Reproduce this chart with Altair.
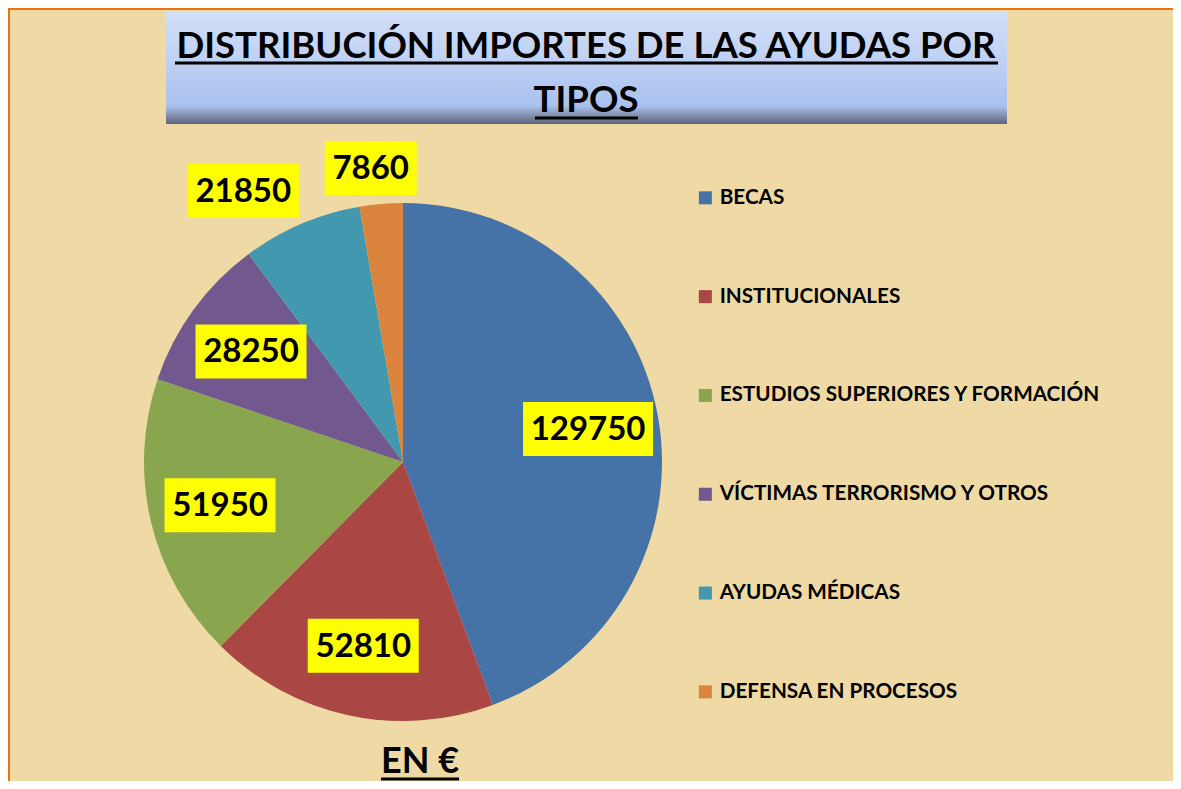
import altair as alt
import pandas as pd

# ---- data ----
categories = ["BECAS", "INSTITUCIONALES", "ESTUDIOS SUPERIORES Y FORMACIÓN",
              "VÍCTIMAS TERRORISMO Y OTROS", "AYUDAS MÉDICAS", "DEFENSA EN PROCESOS"]
values = [129750, 52810, 51950, 28250, 21850, 7860]
colors = ["#4572A7", "#AA4643", "#89A54E", "#71588F", "#4198AF", "#DB843D"]
title_lines = ["DISTRIBUCIÓN IMPORTES DE LAS AYUDAS POR", "TIPOS"]
unit_label = "EN €"

df = pd.DataFrame({"cat": categories, "value": values, "idx": list(range(len(values)))})

# ---- layout constants ----
W, H = 1165, 773
CX, CY, R = 395, 454, 259
FONT = "Lato"
BG = "#EFDAA5"

xs = alt.Scale(domain=[0, W], range=[0, W], nice=False, zero=False)
ys = alt.Scale(domain=[0, H], range=[0, H], nice=False, zero=False)

base = alt.Chart(df)

pie = base.mark_arc(outerRadius=R, stroke=None).encode(
    x=alt.value(CX), y=alt.value(CY),
    theta=alt.Theta("value:Q", stack=True),
    order=alt.Order("idx:Q"),
    color=alt.Color("cat:N", sort=categories,
                    scale=alt.Scale(domain=categories, range=colors),
                    legend=alt.Legend(orient="none", legendX=687, legendY=179.5, title=None,
                                      symbolType="square", symbolSize=169, symbolStrokeWidth=0,
                                      labelFont=FONT, labelFontWeight="bold", labelFontSize=20.7,
                                      labelColor="#000000", labelOffset=4, rowPadding=76.8,
                                      padding=0, labelLimit=600)),
)

lab = base.transform_window(
    cum="sum(value)", sort=[alt.SortField("idx")], frame=[None, 0]
).transform_joinaggregate(
    total="sum(value)"
).transform_calculate(
    mid="2*PI*(datum.cum - datum.value/2)/datum.total",
    label="'' + datum.value",
).transform_calculate(
    inside="datum.value/datum.total >= 0.085",
    w="length(datum.label)*19 + 16",
    h="54",
).transform_calculate(
    px=f"datum.inside ? {CX} + 188*sin(datum.mid) : {CX} + 268*sin(datum.mid) + clamp(2.5*sin(datum.mid), -1, 1)*datum.w/2",
    py=f"datum.inside ? {CY} - 188*cos(datum.mid) : {CY} - 268*cos(datum.mid) - cos(datum.mid)*datum.h/2",
).transform_calculate(
    bx1="datum.px - datum.w/2", bx2="datum.px + datum.w/2",
    by1="datum.py - datum.h/2", by2="datum.py + datum.h/2",
)

boxes = lab.mark_rect(color="#FFFF00").encode(
    x=alt.X("bx1:Q", scale=xs, axis=None), x2="bx2:Q",
    y=alt.Y("by1:Q", scale=ys, axis=None), y2="by2:Q",
)
texts = lab.mark_text(font=FONT, fontWeight="bold", fontSize=33, color="#000000",
                      baseline="middle", align="center", dy=1).encode(
    x=alt.X("px:Q", scale=xs, axis=None),
    y=alt.Y("py:Q", scale=ys, axis=None),
    text="label:N",
)

# ---- title box ----
ann = alt.Chart(pd.DataFrame({"a": [0]}))
title_box = ann.mark_rect(
    fill=alt.Gradient(gradient="linear", x1=0, x2=0, y1=0, y2=1,
                      stops=[alt.GradientStop(color="#D3DEF7", offset=0),
                             alt.GradientStop(color="#BCCFF3", offset=0.5),
                             alt.GradientStop(color="#A9C1EE", offset=0.84),
                             alt.GradientStop(color="#8592B0", offset=0.92),
                             alt.GradientStop(color="#5D657A", offset=1)])
).encode(x=alt.value(158), x2=alt.value(999), y=alt.value(4), y2=alt.value(116))

t1 = ann.mark_text(font=FONT, fontWeight="bold", fontSize=36.5, color="#000000",
                   align="center", baseline="alphabetic").encode(
    x=alt.value(578), y=alt.value(50), text=alt.value(title_lines[0]))
t2 = ann.mark_text(font=FONT, fontWeight="bold", fontSize=36.5, color="#000000",
                   align="center", baseline="alphabetic").encode(
    x=alt.value(578), y=alt.value(104), text=alt.value(title_lines[1]))
u1 = ann.mark_rule(color="#000000", strokeWidth=3).encode(
    x=alt.value(167), x2=alt.value(990), y=alt.value(55))
u2 = ann.mark_rule(color="#000000", strokeWidth=3).encode(
    x=alt.value(527), x2=alt.value(630), y=alt.value(110))

unit = ann.mark_text(font=FONT, fontWeight="bold", fontSize=36, color="#000000",
                     align="center", baseline="alphabetic").encode(
    x=alt.value(412), y=alt.value(765), text=alt.value(unit_label))
u3 = ann.mark_rule(color="#000000", strokeWidth=3).encode(
    x=alt.value(373), x2=alt.value(451), y=alt.value(771))

border_top = ann.mark_rule(color="#E8730F", strokeWidth=2).encode(
    x=alt.value(0), x2=alt.value(W), y=alt.value(1))
border_left = ann.mark_rule(color="#E8730F", strokeWidth=2).encode(
    x=alt.value(1), y=alt.value(0), y2=alt.value(H))

chart = alt.layer(
    title_box, u1, u2, t1, t2, pie, boxes, texts, unit, u3, border_top, border_left
).properties(
    width=W, height=H, background=BG, padding=0,
    autosize=alt.AutoSizeParams(type="none"),
).configure_view(stroke=None)

chart.save("out.html", embed_options={"renderer": "svg", "actions": False})
